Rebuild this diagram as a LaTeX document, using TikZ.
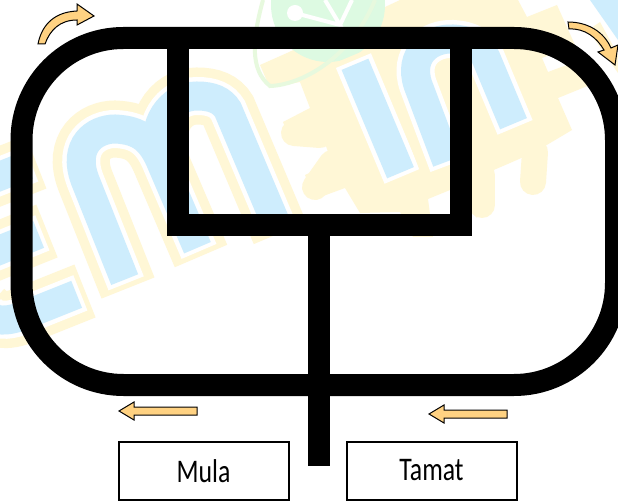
\documentclass[tikz,border=0pt]{standalone}
\usepackage{fontspec}
\setmainfont{Carlito}
\newfontfamily\boxfont[FakeStretch=0.78]{Carlito}
\definecolor{wmyellow}{RGB}{255,247,214}
\definecolor{wmblue}{RGB}{206,237,253}
\definecolor{wmgreen}{RGB}{221,250,226}
\definecolor{arrowfill}{RGB}{255,210,130}
\tikzset{
  track/.style={line width=22pt,black},
  wmy/.style={line width=57pt,wmyellow},
  wmw/.style={line width=38pt,white,shorten <=5pt,shorten >=5pt},
  wmb/.style={line width=29pt,wmblue,shorten <=9pt,shorten >=9pt},
  prong/.style={wmyellow,line width=26pt,line cap=round},
  dirarrow/.style={draw=black,line width=1pt,fill=arrowfill,line join=miter},
  label/.style={draw=black,line width=2pt,minimum width=170pt,minimum height=58pt,inner sep=0pt,font=\boxfont\fontsize{33}{36}\selectfont}
}
\newcommand{\wmstroke}[1]{\foreach \st in {wmy,wmw,wmb}{\draw[\st] #1;}}
\begin{document}
\begin{tikzpicture}[x=1pt,y=-1pt]
  \useasboundingbox (0,0) rectangle (618,502);
  \clip (0,0) rectangle (618,502);
  \fill[white] (0,0) rectangle (618,502);
  % watermark, chip
  \fill[wmyellow] (287,53) -- (400,0) -- (518,0) -- (527,17) -- (557,5) -- (575,45) -- (542,58) -- (548,72) -- (575,62) -- (590,85) -- (558,98) -- (572,130) -- (535,152) -- (510,163) -- (482,175) -- (477,218) -- (450,190) -- (428,199) -- (433,237) -- (413,237) -- (400,212) -- (360,213) -- (345,188) -- (315,199) -- (305,175) -- (332,163) -- (322,135) -- (292,145) -- (283,122) -- (310,108) -- (300,82) -- (270,88) -- (260,65) -- cycle;
  \draw[prong] (535,152) -- (533,182);
  \draw[prong] (482,175) -- (482,205);
  \draw[prong] (320,135) -- (294,133);
  \draw[prong] (332,163) -- (315,187);
  \fill[wmyellow] (588,30) -- (600,22) -- (618,55) -- (618,73) -- cycle;
  \fill[wmblue] (590,0) -- (618,0) -- (618,40) -- cycle;
  % watermark, circle
  \fill[wmgreen] (328,5) circle (57);
  \fill[white] (295,13) circle (8);
  \draw[white,line width=4pt] (295,13) -- (340,25) -- (325,0);
  \draw[white,line width=4pt] (340,25) -- (352,0);
  \draw[wmgreen!70!wmyellow,line width=4pt] (263,0) .. controls (252,40) and (250,70) .. (270,86) .. controls (300,85) and (350,60) .. (375,0);
  % watermark, letters
  \wmstroke{(85,291) -- (25,315) .. controls (5,323) and (-5,320) .. (-15,310)}
  \wmstroke{(47,231) -- (-20,258)}
  \wmstroke{(36,162) -- (-20,184)}
  \foreach \st in {wmy,wmw,wmb}{
    \draw[\st] (128,288) -- (85,180) .. controls (72,145) and (95,129) .. (115,129) .. controls (140,130) and (152,140) .. (162,165) -- (201,256);
    \draw[\st] (162,165) .. controls (150,125) and (170,96) .. (197,96) .. controls (212,96) and (222,100) .. (228,110) -- (280,233);
  }
  \wmstroke{(351.5,56) -- (404,181)}
  \wmstroke{(450,170) -- (418,85) .. controls (408,55) and (430,38) .. (453,39) .. controls (470,40) and (480,46) .. (486,58) -- (517,132)}
  % route
  \coordinate (tl) at (177.5,38);
  \coordinate (tr) at (461,38);
  \coordinate (bl) at (177.5,225);
  \coordinate (br) at (461,225);
  \coordinate (st) at (318.5,225);
  \coordinate (se) at (318.5,466);
  \draw[track,rounded corners=102pt] (21.5,38) rectangle (616,385);
  \draw[track] (tl) -- (bl) -- (br) -- (tr);
  \draw[track] (st) -- (se);
  % boxes
  \node[label] (mula) at (203.5,471) {Mula};
  \node[label] (tamat) at (431.5,470.5) {Tamat};
  % arrows
  \draw[dirarrow] (38,44) .. controls (42,24) and (55,12) .. (77,11) -- (77,4) -- (94,16) -- (77,25) -- (77,20) .. controls (60,20) and (50,30) .. (45,44) -- cycle;
  \draw[dirarrow] (568,22) .. controls (588,22) and (604,32) .. (611,48) -- (618,45) -- (615,65) -- (598,52) -- (604,50) .. controls (597,38) and (585,28) .. (569,29) -- cycle;
  \draw[dirarrow] (197,407) -- (134,407) -- (134,402) -- (119,411) -- (134,420) -- (134,415) -- (197,415) -- cycle;
  \draw[dirarrow] (507,410) -- (444,410) -- (444,405) -- (429,414) -- (444,423) -- (444,418) -- (507,418) -- cycle;
\end{tikzpicture}
\end{document}
